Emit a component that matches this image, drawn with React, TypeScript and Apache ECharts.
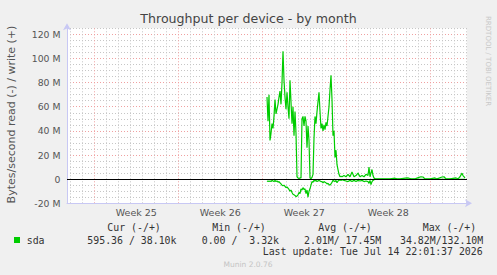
import { useEffect, useRef } from 'react';
import * as echarts from 'echarts';

const TITLE = 'Throughput per device - by month';
const Y_NAME = 'Bytes/second read (-) / write (+)';

// time in hours since the left edge of the plot (2 h per pixel)
const HOURS = [
  400, 402, 404, 406, 408, 410, 412, 414, 416, 418, 420, 422, 424, 426, 428, 430, 432, 434, 436, 438,
  440, 442, 444, 446, 448, 450, 452, 454, 456, 458, 460, 462, 464, 466, 468, 470, 472, 474, 476, 478,
  480, 482, 484, 486, 488, 490, 492, 494, 496, 498, 500, 502, 504, 506, 508, 510, 512, 514, 516, 518,
  520, 522, 524, 526, 528, 530, 532, 534, 536, 538, 540, 542, 544, 546, 548, 550,
  554, 558, 562, 566, 570, 574, 578, 582, 586, 590, 594, 598, 602, 604, 606, 608, 610, 612, 614, 616,
  626, 646, 656, 660, 666, 680, 684, 688, 696, 704, 708, 712, 716, 726, 736, 740, 750, 754, 758, 766,
  778, 782, 786, 790, 792, 796,
];

// write (+) in MB/s
const WRITE_MB = [
  68, 48, 70, 32, 38, 46, 42, 52, 66, 54, 58, 62, 68, 73, 62, 80, 106, 82, 68, 58,
  72, 60, 50, 82, 64, 46, 60, 36, 56, 38, 2, 1, 0.5, 1, 1, 50, 52, 44, 52, 48,
  26, 44, 32, 1, 0.5, 1.5, 4, 34, 52, 46, 56, 64, 72, 56, 42, 46, 40, 45, 41, 47,
  44, 52, 60, 74, 86, 66, 36, 40, 18, 24, 12, 8, 4, 2, 2.5, 2,
  3, 2, 4, 2, 6, 2, 3, 5, 2, 3, 2, 4, 3, 10, 2, 5, 8, 3, 1, 0.3,
  0.2, 0.3, 0.8, 0.2, 0.2, 1, 0.8, 0.2, 0.2, 1.5, 2, 1.8, 0.2, 0.2, 1, 0.2, 1.8, 2, 0.3, 0.2,
  1, 0.3, 2, 5, 3, 1,
];

// read (-) in MB/s
const READ_MB = [
  -2, -1.5, -2, -1.5, -2, -1, -1.5, -2, -1, -2, -1.5, -2.5, -2, -3, -4, -5, -5.5, -5, -6, -7,
  -6.5, -7.5, -8.5, -10, -9, -11, -12.5, -13, -13.5, -14.5, -14, -13, -11, -12, -8, -9, -7, -8.5, -8, -12,
  -9, -15, -10, -8, -5, -2, -2.5, -1, -1.5, -1, -2, -1.5, -1, -1.5, -2, -2, -3, -2, -2.5, -3,
  -4, -3.5, -4.5, -5, -4, -2.5, -1, -1.5, -2, -1, -3, -1.5, -1, -0.5, -1, -0.5,
  -1, -1.5, -2, -1, -2, -1, -2, -1, -1.5, -1, -2, -1.5, -2, -3.5, -1, -4.5, -2, -1, -0.5, -0.2,
  -0.2, -0.2, -0.2, -0.2, -0.2, -0.2, -0.2, -0.2, -0.2, -0.2, -0.2, -0.2, -0.2, -0.2, -0.2, -0.2, -0.2, -0.2, -0.2, -0.2,
  -0.2, -0.2, -0.2, -0.2, -0.2, -0.2,
];

const Y_MIN = -20;
const Y_MAX = 125;
const Y_STEP = 5;
const X_MIN = 0;
const X_MAX = 800;
const DAY_LINES = Array.from({ length: 34 }, (_, i) => 6.6 + 24 * i);
const WEEK_CENTERS = [138.6, 306.6, 474.6, 642.6];
const WEEK_LABELS = ['Week 25', 'Week 26', 'Week 27', 'Week 28'];

const LEGEND_HEADERS = ['Cur (-/+)', 'Min (-/+)', 'Avg (-/+)', 'Max (-/+)'];
const LEGEND_NAME = 'sda';
const LEGEND_VALUES = ['595.36 / 38.10k', '0.00 /  3.32k', '2.01M/ 17.45M', '34.82M/132.10M'];
const LAST_UPDATE = 'Last update: Tue Jul 14 22:01:37 2026';
const WATERMARK = 'RRDTOOL / TOBI OETIKER';
const FOOTER = 'Munin 2.0.76';

const GREEN = '#00cc00';
const GRID = '#c6c6c6';
const MGRID = '#f0a0a0';
const AXIS = '#c8c8f4';
const MONO = 'DejaVu Sans Mono';
const SANS = 'DejaVu Sans';

const HEADER_X = [107.3, 212.3, 318.3, 422.7];
const VALUE_X = [87.3, 201.7, 304, 400];

export default function App() {
  const ref = useRef<HTMLDivElement>(null);

  useEffect(() => {
    document.body.style.margin = '0';
    document.body.style.background = '#f0f0f0';
    if (!ref.current) return;
    const chart = echarts.init(ref.current, null, { renderer: 'svg' });

    const monoText = (text: string, x: number, y: number, fill = '#333', align = 'left') => ({
      type: 'text',
      x,
      y,
      silent: true,
      style: {
        text,
        fill,
        fontFamily: MONO,
        fontSize: 9.9,
        textAlign: align,
        textVerticalAlign: 'middle',
      },
    });

    const graphics: any[] = [
      {
        type: 'text',
        x: 248.5,
        y: 18.5,
        silent: true,
        style: { text: TITLE, fill: '#444', fontFamily: SANS, fontSize: 12.6, textAlign: 'center', textVerticalAlign: 'middle' },
      },
      {
        type: 'text',
        x: 11.5,
        y: 114.5,
        rotation: Math.PI / 2,
        silent: true,
        style: { text: Y_NAME, fill: '#555', fontFamily: SANS, fontSize: 11, textAlign: 'center', textVerticalAlign: 'middle' },
      },
      {
        type: 'text',
        x: 487.5,
        y: 16,
        rotation: -Math.PI / 2,
        silent: true,
        style: { text: WATERMARK, fill: '#c8c8c8', fontFamily: SANS, fontSize: 7, textAlign: 'left', textVerticalAlign: 'middle' },
      },
      ...LEGEND_HEADERS.map((t, i) => monoText(t, HEADER_X[i], 227.5)),
      {
        type: 'rect',
        silent: true,
        shape: { x: 14, y: 237, width: 6, height: 6 },
        style: { fill: GREEN },
      },
      monoText(LEGEND_NAME, 26.7, 240),
      ...LEGEND_VALUES.map((t, i) => monoText(t, VALUE_X[i], 240)),
      monoText(LAST_UPDATE, 482.7, 251.8, '#333', 'right'),
      {
        type: 'text',
        x: 248,
        y: 264,
        silent: true,
        style: { text: FOOTER, fill: '#c4c4c4', fontFamily: SANS, fontSize: 7.5, textAlign: 'center', textVerticalAlign: 'middle' },
      },
    ];

    const option: any = {
      animation: false,
      backgroundColor: '#f0f0f0',
      grid: {
        left: 67,
        top: 28.3,
        width: 400,
        height: 175,
        show: true,
        backgroundColor: '#ffffff',
        borderWidth: 0,
        containLabel: false,
        outerBoundsMode: 'none',
      },
      xAxis: {
        type: 'value',
        min: X_MIN,
        max: X_MAX,
        axisLine: {
          show: true,
          onZero: false,
          lineStyle: { color: AXIS, width: 1 },
          symbol: ['none', 'arrow'],
          symbolSize: [6, 7],
          symbolOffset: [0, 5],
        },
        axisTick: { show: false, customValues: DAY_LINES },
        axisLabel: {
          customValues: WEEK_CENTERS,
          formatter: (v: number) => {
            const i = WEEK_CENTERS.findIndex((c) => Math.abs(c - v) < 1);
            return i >= 0 ? WEEK_LABELS[i] : '';
          },
          color: '#555',
          fontFamily: SANS,
          fontSize: 9.5,
          margin: 4,
        },
        splitLine: {
          show: true,
          lineStyle: { color: [GRID, GRID, MGRID, GRID, GRID, GRID, GRID], type: [1, 2], width: 1 },
        },
      },
      yAxis: {
        type: 'value',
        min: Y_MIN,
        max: Y_MAX,
        interval: Y_STEP,
        axisLine: {
          show: true,
          lineStyle: { color: AXIS, width: 1 },
          symbol: ['none', 'arrow'],
          symbolSize: [6, 7],
          symbolOffset: [0, 5],
        },
        axisTick: { show: false },
        axisLabel: {
          formatter: (v: number) => (v % 20 === 0 ? (v === 0 ? '0' : `${v} M`) : ''),
          color: '#555',
          fontFamily: SANS,
          fontSize: 9.3,
          margin: 6.5,
        },
        splitLine: {
          show: true,
          lineStyle: { color: [MGRID, GRID, GRID, GRID], type: [1, 2], width: 1 },
        },
      },
      series: [
        {
          name: 'write',
          type: 'line',
          data: HOURS.map((h, i) => [h, WRITE_MB[i]]),
          showSymbol: false,
          lineStyle: { color: GREEN, width: 1.2 },
          itemStyle: { color: GREEN },
          z: 3,
          markLine: {
            silent: true,
            symbol: 'none',
            label: { show: false },
            lineStyle: { color: '#000', type: 'solid', width: 1 },
            data: [{ yAxis: 0 }],
          },
        },
        {
          name: 'read',
          type: 'line',
          data: HOURS.map((h, i) => [h, READ_MB[i]]),
          showSymbol: false,
          lineStyle: { color: GREEN, width: 1.2 },
          itemStyle: { color: GREEN },
          z: 3,
        },
      ],
      graphic: graphics,
    };

    chart.setOption(option);
    return () => chart.dispose();
  }, []);

  return <div ref={ref} style={{ width: 497, height: 275, background: '#f0f0f0' }} />;
}
